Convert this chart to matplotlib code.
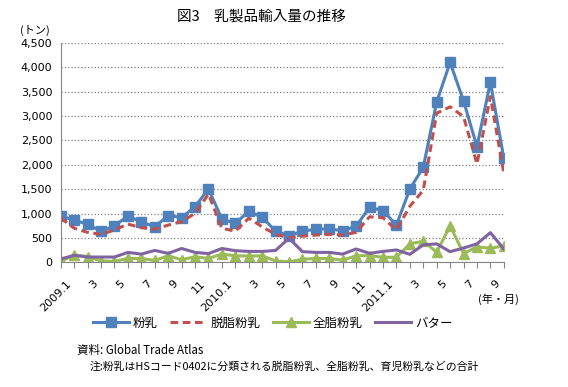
import matplotlib.pyplot as plt

plt.rcParams['font.family'] = ['Noto Sans CJK JP', 'DejaVu Sans']

# 2009.1 - 2011.10, monthly import volume (tons)
months = list(range(34))
tick_labels = ['2009.1', '3', '5', '7', '9', '11',
               '2010.1', '3', '5', '7', '9', '11',
               '2011.1', '3', '5', '7', '9']
powder = [950, 870, 780, 640, 750, 950, 830, 730, 960, 920, 1140, 1510,
          890, 800, 1050, 925, 640, 545, 640, 680, 690, 645,
          745, 1130, 1060, 765, 1505, 1950, 3290, 4100, 3310, 2375, 3695, 2135]
skim = [910, 700, 615, 575, 665, 785, 710, 680, 765, 835, 1005, 1400,
        700, 640, 905, 730, 575, 505, 540, 560, 575, 560,
        615, 935, 915, 665, 1150, 1480, 3060, 3190, 2990, 2020, 3400, 1830]
whole = [20, 150, 120, 30, 20, 80, 80, 40, 135, 55, 115, 80,
         170, 135, 130, 135, 30, 10, 65, 80, 80, 45,
         135, 140, 105, 105, 380, 435, 210, 750, 180, 320, 290, 340]
butter = [70, 145, 110, 110, 110, 205, 170, 245, 185, 285, 205, 180,
          285, 240, 225, 225, 245, 495, 220, 205, 205, 170,
          275, 185, 225, 255, 165, 360, 380, 220, 295, 380, 610, 275]

fig = plt.figure(figsize=(5.68, 3.87), dpi=100)
ax = fig.add_axes([0.107, 0.322, 0.780, 0.567])

ax.plot(months, powder, color='#4F81BD', lw=2.2, marker='s', ms=6.5, label='粉乳')
ax.plot(months, skim, color='#C0504D', lw=2.2, ls=(0, (2.5, 1.5)), label='脱脂粉乳')
ax.plot(months, whole, color='#9BBB59', lw=2.2, marker='^', ms=6.5, label='全脂粉乳')
ax.plot(months, butter, color='#8064A2', lw=2.2, label='バター')

ax.set_xlim(0, 33)
ax.set_ylim(0, 4500)
ax.set_yticks(range(0, 4501, 500))
ax.set_yticklabels([f'{v:,}' for v in range(0, 4501, 500)], fontsize=8,
                   family='DejaVu Sans')
ax.set_xticks(months)
ax.set_xticklabels([])
ax.tick_params(axis='y', length=0, pad=6)
ax.tick_params(axis='x', length=4, color='#868686', direction='out')
for i, lab in zip(range(0, 33, 2), tick_labels):
    ax.text(i + 0.35, -330, lab, rotation=45, ha='right', va='top',
            rotation_mode='anchor', fontsize=8, family='DejaVu Sans')

ax.grid(axis='y', ls=':', color='#808080', lw=0.9)
for s in ['top', 'right']:
    ax.spines[s].set_visible(False)
for s in ['left', 'bottom']:
    ax.spines[s].set_color('#868686')

fig.text(0.461, 0.957, '図3\u3000乳製品輸入量の推移', ha='center', va='center', fontsize=10.5)
fig.text(0.062, 0.922, '(トン)', ha='center', va='center', fontsize=8)
fig.text(0.877, 0.228, '(年・月)', ha='center', va='center', fontsize=8)

fig.legend(loc='center', bbox_to_anchor=(0.48, 0.165), ncol=4, frameon=False,
           fontsize=9, handlelength=2.9, columnspacing=1.0, handletextpad=0.3)

fig.text(0.135, 0.095, '資料: Global Trade Atlas', ha='left', va='center', fontsize=8.3)
fig.text(0.158, 0.054, '注:粉乳はHSコード0402に分類される脱脂粉乳、全脂粉乳、育児粉乳などの合計',
         ha='left', va='center', fontsize=7.8)

fig.savefig('out.png', dpi=100)
